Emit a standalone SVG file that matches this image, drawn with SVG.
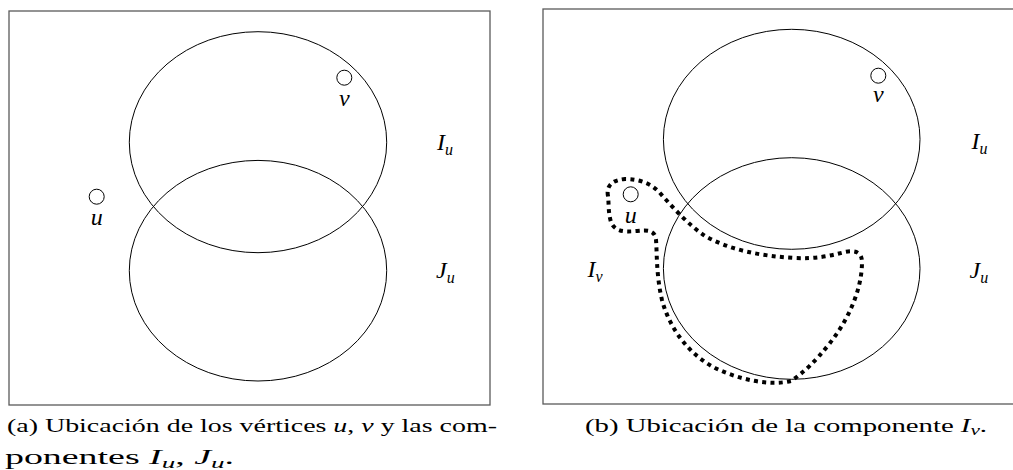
<svg xmlns="http://www.w3.org/2000/svg" width="1013" height="470" viewBox="0 0 1013 470">
<style>
.frame{fill:none;stroke:#5a5a5a;stroke-width:1.3}
.ell{fill:none;stroke:#000;stroke-width:1}
.pt{fill:#fff;stroke:#000;stroke-width:1}
.lbl{font-family:"Liberation Serif",serif;font-style:italic;font-size:24px;fill:#000}
.sub{font-size:16px}
.cap{font-family:"Liberation Serif",serif;font-size:19px;fill:#000}
.cap2{font-family:"Liberation Serif",serif;font-size:21px;fill:#000}
.it{font-style:italic}
.dot{fill:none;stroke:#000;stroke-width:4;stroke-dasharray:4 4.3}
</style>
<rect width="1013" height="470" fill="#fff"/>
<g id="panel-a">
  <rect class="frame" x="9" y="11" width="481" height="394"/>
  <g id="a-I"><ellipse class="ell" cx="258" cy="142.2" rx="128.7" ry="110.5"/></g>
  <g id="a-J"><ellipse class="ell" cx="258" cy="270.7" rx="128.7" ry="110.3"/></g>
  <g id="a-v"><circle class="pt" cx="344.3" cy="77.7" r="7.5"/><text class="lbl" x="344.3" y="106" text-anchor="middle">v</text></g>
  <g id="a-u"><circle class="pt" cx="96.7" cy="196.7" r="7.5"/><text class="lbl" x="96.7" y="225" text-anchor="middle">u</text></g>
  <text class="lbl" x="437" y="150">I<tspan class="sub" dy="4.5">u</tspan></text>
  <text class="lbl" x="436" y="278">J<tspan class="sub" dy="4.5">u</tspan></text>
</g>
<g id="panel-b">
  <rect class="frame" x="543" y="9" width="480" height="395"/>
  <g id="b-I"><ellipse class="ell" cx="791.7" cy="139.3" rx="128.3" ry="110"/></g>
  <g id="b-J"><ellipse class="ell" cx="791.7" cy="268.5" rx="128.3" ry="110.8"/></g>
  <g id="b-v"><circle class="pt" cx="878.3" cy="75.7" r="7.5"/><text class="lbl" x="878.3" y="102" text-anchor="middle">v</text></g>
  <g id="b-u"><circle class="pt" cx="630.7" cy="194.3" r="7.5"/><text class="lbl" x="630.7" y="222.7" text-anchor="middle">u</text></g>
  <text class="lbl" x="971.5" y="149">I<tspan class="sub" dy="4.5">u</tspan></text>
  <text class="lbl" x="969.5" y="278">J<tspan class="sub" dy="4.5">u</tspan></text>
  <text class="lbl" x="587.5" y="277">I<tspan class="sub" dy="4.5">v</tspan></text>
  <g id="b-Iv">
    <path class="dot" d="M 608,196 C 606,186 612,180 625,179 C 640,179 652,184 660,193 C 675,210 690,226 705,236 C 730,250 760,256 795,258 C 815,259 830,256 845,252 C 855,250 862,252 862,262 C 862,290 848,320 830,343 C 815,362 803,373 791,381 C 770,386 740,380 715,368 C 690,355 670,330 662,300 C 656,275 657,250 656,240 C 655,230 648,230 637,231 C 625,232 615,232 611,222 C 608,212 609,204 608,196 Z"/>
  </g>
</g>
<g id="captions">
  <text class="cap" x="7" y="431.5" textLength="490" lengthAdjust="spacingAndGlyphs">(a) Ubicación de los vértices <tspan class="it">u</tspan>, <tspan class="it">v</tspan> y las com-</text>
  <text class="cap2" x="5" y="464" textLength="229" lengthAdjust="spacingAndGlyphs">ponentes <tspan class="it">I</tspan><tspan class="it" font-size="15" dy="4">u</tspan><tspan dy="-4">, </tspan><tspan class="it">J</tspan><tspan class="it" font-size="15" dy="4">u</tspan><tspan dy="-4">.</tspan></text>
  <text class="cap" x="585" y="431.5" textLength="402" lengthAdjust="spacingAndGlyphs">(b) Ubicación de la componente <tspan class="it">I</tspan><tspan class="it" font-size="14" dy="3.5">v</tspan><tspan dy="-3.5">.</tspan></text>
</g>
</svg>
